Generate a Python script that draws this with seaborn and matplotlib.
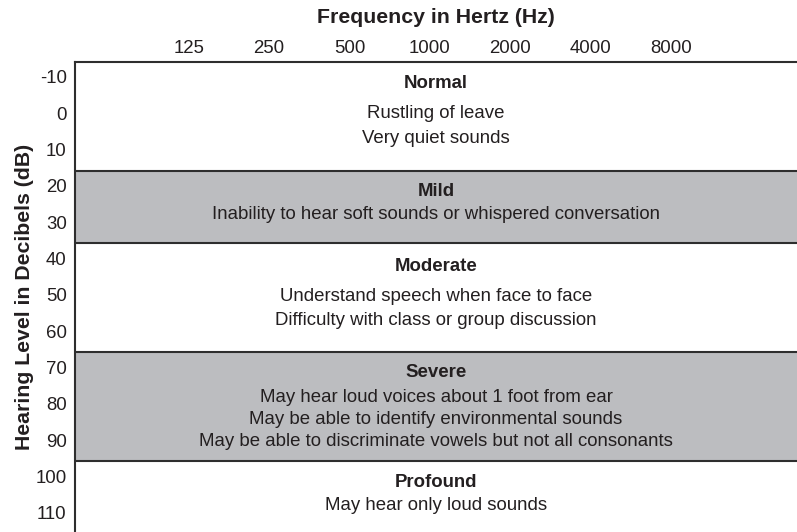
import matplotlib
matplotlib.use("Agg")
import matplotlib.pyplot as plt
import matplotlib.transforms as mtransforms
import seaborn as sns
import pandas as pd

# Audiogram frequency axis (Hz) and hearing level axis (dB HL)
frequencies = [125, 250, 500, 1000, 2000, 4000, 8000]
db_ticks = [-10, 0, 10, 20, 30, 40, 50, 60, 70, 80, 90, 100, 110]

# Degrees of hearing loss and their dB HL ranges
categories = ["Normal", "Mild", "Moderate", "Severe", "Profound"]
band_top = [-15, 15, 35, 65, 95]
band_bottom = [15, 35, 65, 95, 114.5]
shaded = [False, True, False, True, False]
descriptions = [
    ["Rustling of leave", "Very quiet sounds"],
    ["Inability to hear soft sounds or whispered conversation"],
    ["Understand speech when face to face",
     "Difficulty with class or group discussion"],
    ["May hear loud voices about 1 foot from ear",
     "May be able to identify environmental sounds",
     "May be able to discriminate vowels but not all consonants"],
    ["May hear only loud sounds"],
]

# Vertical placement (dB) of the heading and each description line per band
heading_rows = [-9.1, 20.8, 41.5, 70.6, 100.8]
line_rows = [
    [-0.7, 6.1],
    [27.1],
    [49.6, 56.2],
    [77.5, 83.5, 89.7],
    [107.3],
]

bands = pd.DataFrame({
    "category": categories,
    "top": band_top,
    "bottom": band_bottom,
    "shaded": shaded,
})

sns.set_theme(style="white")
plt.rcParams["font.family"] = ["Liberation Sans", "DejaVu Sans"]

INK = "#231f20"
LINE = "#2e2e2e"
GRAY = "#bcbdc0"

fig = plt.figure(figsize=(7.97, 5.32), dpi=100)
ax = fig.add_axes([75 / 797, 0.0, 1 - 75 / 797, 1 - 61.6 / 532])

ax.set_xscale("log", base=2)
ax.set_xlim(46.9, 23665)
ax.set_ylim(114.5, -15)

# Shaded bands and the boundaries between degrees of loss
for _, row in bands.iterrows():
    if row["shaded"]:
        ax.axhspan(row["top"], row["bottom"], color=GRAY, lw=0, zorder=0)
for edge in bands["top"].iloc[1:]:
    ax.axhline(edge, color=LINE, lw=1.5, zorder=2)

# Band headings and descriptions, centered across the frequency range
trans = mtransforms.blended_transform_factory(ax.transAxes, ax.transData)
for name, hy, lines, ys in zip(categories, heading_rows, descriptions, line_rows):
    ax.text(0.5, hy, name, transform=trans, ha="center", va="center",
            fontsize=13.4, fontweight="bold", color=INK)
    for text, y in zip(lines, ys):
        ax.text(0.5, y, text, transform=trans, ha="center", va="center",
                fontsize=13.4, color=INK)

# Axes: frequency on top, hearing level down the left
ax.xaxis.tick_top()
ax.xaxis.set_label_position("top")
ax.set_xticks(frequencies)
ax.set_xticklabels([str(f) for f in frequencies])
ax.xaxis.set_minor_locator(matplotlib.ticker.NullLocator())
ax.set_yticks(db_ticks)
ax.set_yticklabels([str(d) for d in db_ticks])
ax.tick_params(axis="both", length=0, labelsize=13.4, colors=INK)
ax.tick_params(axis="x", pad=3.5)
ax.tick_params(axis="y", pad=6)

# Nudge the hearing-level labels slightly upward
lift = mtransforms.ScaledTranslation(0, 3 / 100, fig.dpi_scale_trans)
for tick in ax.yaxis.get_major_ticks():
    tick.label1.set_transform(tick.label1.get_transform() + lift)

ax.set_xlabel("Frequency in Hertz (Hz)", fontsize=15.3, fontweight="bold",
              color=INK, labelpad=12)
ax.set_ylabel("Hearing Level in Decibels (dB)", fontsize=15.3,
              fontweight="bold", color=INK, labelpad=1)

for side in ("right", "bottom"):
    ax.spines[side].set_visible(False)
for side in ("top", "left"):
    ax.spines[side].set_color(LINE)
    ax.spines[side].set_linewidth(1.5)
ax.grid(False)

fig.savefig("out.png", dpi=100)
